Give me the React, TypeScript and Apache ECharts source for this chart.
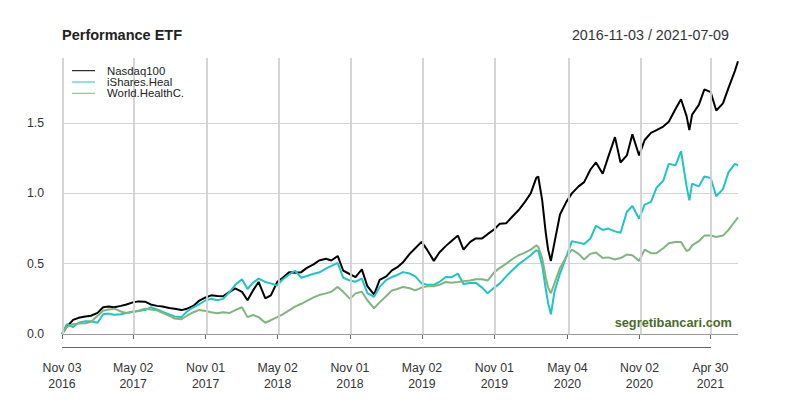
import React, { useEffect, useRef } from 'react';
import * as echarts from 'echarts';

const dates = [
  '2016-11-03', '2016-11-15', '2016-12-01', '2016-12-15',
  '2017-01-01', '2017-01-15', '2017-02-01', '2017-02-15', '2017-03-01', '2017-03-15', '2017-04-01', '2017-04-15',
  '2017-05-01', '2017-05-15', '2017-06-01', '2017-06-15', '2017-07-01', '2017-07-15', '2017-08-01', '2017-08-15',
  '2017-09-01', '2017-09-15', '2017-10-01', '2017-10-15', '2017-11-01', '2017-11-15', '2017-12-01', '2017-12-15',
  '2018-01-01', '2018-01-15', '2018-02-01', '2018-02-15', '2018-03-01', '2018-03-15', '2018-04-01', '2018-04-15',
  '2018-05-01', '2018-05-15', '2018-06-01', '2018-06-15', '2018-07-01', '2018-07-15', '2018-08-01', '2018-08-15',
  '2018-09-01', '2018-09-15', '2018-10-01', '2018-10-15', '2018-11-01', '2018-11-15', '2018-12-01', '2018-12-15',
  '2019-01-01', '2019-01-15', '2019-02-01', '2019-02-15', '2019-03-01', '2019-03-15', '2019-04-01', '2019-04-15',
  '2019-05-01', '2019-05-15', '2019-06-01', '2019-06-15', '2019-07-01', '2019-07-15', '2019-08-01', '2019-08-15',
  '2019-09-01', '2019-09-15', '2019-10-01', '2019-10-15', '2019-11-01', '2019-11-15', '2019-12-01', '2019-12-15',
  '2020-01-01', '2020-01-15', '2020-02-01', '2020-02-15', '2020-02-20', '2020-03-01', '2020-03-10', '2020-03-16',
  '2020-03-23', '2020-04-01', '2020-04-15', '2020-05-01', '2020-05-15', '2020-06-01', '2020-06-15', '2020-07-01',
  '2020-07-15', '2020-08-01', '2020-08-15', '2020-09-01', '2020-09-15', '2020-10-01', '2020-10-15', '2020-11-01',
  '2020-11-15', '2020-12-01', '2020-12-15',
  '2021-01-01', '2021-01-15', '2021-02-01', '2021-02-15', '2021-03-01', '2021-03-08', '2021-03-15', '2021-04-01',
  '2021-04-15', '2021-05-01', '2021-05-15', '2021-06-01', '2021-06-15', '2021-07-01', '2021-07-09',
];

const nasdaq100 = [
  0, 0.05, 0.1, 0.115,
  0.124, 0.13, 0.15, 0.19, 0.195, 0.19, 0.2, 0.21, 0.225, 0.232, 0.23, 0.21, 0.2, 0.195, 0.185, 0.18, 0.17, 0.18, 0.2, 0.235, 0.26, 0.275, 0.27, 0.268,
  0.3, 0.324, 0.3, 0.24, 0.31, 0.37, 0.254, 0.275, 0.37, 0.4, 0.44, 0.435, 0.44, 0.47, 0.495, 0.523, 0.535, 0.523, 0.555, 0.45, 0.425, 0.405, 0.46, 0.34,
  0.28, 0.385, 0.41, 0.453, 0.475, 0.51, 0.57, 0.61, 0.655, 0.6, 0.52, 0.58, 0.625, 0.66, 0.7, 0.6, 0.655, 0.68, 0.68, 0.71, 0.745, 0.785, 0.788, 0.83,
  0.88, 0.93, 1.0, 1.11, 1.12, 0.95, 0.72, 0.6, 0.52, 0.65, 0.85, 0.94, 1.0, 1.05, 1.08, 1.17, 1.22, 1.14, 1.26, 1.4, 1.22, 1.27, 1.42, 1.27, 1.38, 1.43, 1.45,
  1.475, 1.51, 1.6, 1.67, 1.55, 1.45, 1.56, 1.63, 1.74, 1.72, 1.59, 1.64, 1.75, 1.87, 1.94,
];

const isharesHeal = [
  0, 0.07, 0.05, 0.08,
  0.09, 0.09, 0.08, 0.14, 0.145, 0.137, 0.14, 0.15, 0.157, 0.163, 0.17, 0.19, 0.175, 0.158, 0.14, 0.125, 0.12, 0.16, 0.19, 0.21, 0.24, 0.25, 0.24, 0.25,
  0.3, 0.35, 0.39, 0.32, 0.365, 0.394, 0.37, 0.36, 0.345, 0.388, 0.425, 0.45, 0.4, 0.412, 0.428, 0.437, 0.465, 0.485, 0.505, 0.4, 0.38, 0.372, 0.394, 0.29,
  0.265, 0.335, 0.385, 0.405, 0.42, 0.44, 0.43, 0.41, 0.36, 0.35, 0.35, 0.37, 0.405, 0.403, 0.43, 0.355, 0.363, 0.365, 0.33, 0.29, 0.33, 0.36, 0.41, 0.45,
  0.495, 0.525, 0.56, 0.595, 0.59, 0.49, 0.32, 0.22, 0.14, 0.3, 0.43, 0.55, 0.66, 0.65, 0.64, 0.68, 0.77, 0.74, 0.75, 0.73, 0.72, 0.87, 0.91, 0.82, 0.92, 0.94, 1.04,
  1.09, 1.21, 1.2, 1.3, 1.05, 0.95, 1.07, 1.05, 1.12, 1.11, 0.98, 1.03, 1.15, 1.21, 1.2,
];

const worldHealth = [
  0, 0.05, 0.07, 0.075,
  0.077, 0.085, 0.13, 0.165, 0.175, 0.18, 0.16, 0.15, 0.16, 0.165, 0.18, 0.175, 0.168, 0.15, 0.13, 0.11, 0.105, 0.13, 0.155, 0.17, 0.163, 0.155, 0.148, 0.155,
  0.15, 0.17, 0.19, 0.12, 0.135, 0.12, 0.08, 0.098, 0.12, 0.14, 0.17, 0.195, 0.215, 0.235, 0.26, 0.277, 0.289, 0.3, 0.335, 0.3, 0.25, 0.289, 0.3, 0.24,
  0.183, 0.225, 0.27, 0.31, 0.32, 0.335, 0.325, 0.31, 0.33, 0.34, 0.34, 0.35, 0.37, 0.365, 0.37, 0.375, 0.38, 0.39, 0.39, 0.38, 0.44, 0.47, 0.5, 0.53,
  0.56, 0.575, 0.6, 0.63, 0.62, 0.54, 0.4, 0.33, 0.29, 0.36, 0.47, 0.55, 0.6, 0.57, 0.53, 0.57, 0.58, 0.54, 0.545, 0.53, 0.54, 0.565, 0.56, 0.52, 0.6, 0.575, 0.575,
  0.61, 0.645, 0.655, 0.655, 0.59, 0.6, 0.63, 0.66, 0.7, 0.7, 0.69, 0.7, 0.74, 0.8, 0.83,
];

const seriesNames = ['Nasdaq100', 'iShares.Heal', 'World.HealthC.'];
const seriesColors = ['#000000', '#1fc4c4', '#80b580'];
const tickDates = [
  '2016-11-03', '2017-05-02', '2017-11-01', '2018-05-02', '2018-11-01',
  '2019-05-02', '2019-11-01', '2020-05-04', '2020-11-02', '2021-04-30',
];
const yTicks = [0, 0.5, 1, 1.5];
const Y_MAX = 1.963;
const chartTitle = 'Performance ETF';
const rangeLabel = '2016-11-03 / 2021-07-09';
const watermark = 'segretibancari.com';

const MONTHS = ['Jan', 'Feb', 'Mar', 'Apr', 'May', 'Jun', 'Jul', 'Aug', 'Sep', 'Oct', 'Nov', 'Dec'];
const FONT = '"Liberation Sans", Arial, Helvetica, sans-serif';

const ts = (d: string) => {
  const [y, m, dd] = d.split('-').map(Number);
  return Date.UTC(y, m - 1, dd);
};

const fmtDate = (v: number) => {
  const d = new Date(v);
  return `${MONTHS[d.getUTCMonth()]} ${String(d.getUTCDate()).padStart(2, '0')}\n${d.getUTCFullYear()}`;
};

export default function App() {
  const ref = useRef<HTMLDivElement>(null);

  useEffect(() => {
    document.body.style.margin = '0';
    if (!ref.current) return;
    const chart = echarts.init(ref.current, undefined, { renderer: 'svg' });
    const tickTs = tickDates.map(ts);
    const values = [nasdaq100, isharesHeal, worldHealth];

    const overlay: any[] = [];
    seriesNames.forEach((name, i) => {
      const y = 70.7 + i * 11.3;
      overlay.push({
        type: 'line', id: 'lg-line-' + i, silent: true, z: 20,
        shape: { x1: 72, y1: y, x2: 95, y2: y },
        style: { stroke: seriesColors[i], lineWidth: 1 },
      });
      overlay.push({
        type: 'text', id: 'lg-text-' + i, silent: true, z: 20,
        x: 107, y,
        style: { text: name, fill: '#222', font: `11.4px ${FONT}`, verticalAlign: 'middle', align: 'left' },
      });
    });
    overlay.push({
      type: 'text', id: 'wm', silent: true, z: 20,
      x: 732, y: 322,
      style: { text: watermark, fill: '#4b6b2b', font: `bold 12.8px ${FONT}`, verticalAlign: 'middle', align: 'right' },
    });

    chart.setOption({
      animation: false,
      backgroundColor: '#ffffff',
      title: [
        {
          text: chartTitle, left: 62, top: 26, padding: 0,
          textStyle: { fontFamily: FONT, fontSize: 14.5, fontWeight: 'bold', color: '#222', lineHeight: 17 },
        },
        {
          text: rangeLabel, right: 71, top: 26, padding: 0,
          textStyle: { fontFamily: FONT, fontSize: 14.3, fontWeight: 'normal', color: '#333', lineHeight: 17 },
        },
      ],
      grid: { left: 62, right: 62, top: 58, bottom: 66, containLabel: false, outerBoundsMode: 'none' },
      xAxis: {
        type: 'value',
        min: ts(dates[0]),
        max: ts(dates[dates.length - 1]),
        offset: 13,
        axisLine: { show: false },
        axisTick: { show: true, customValues: tickTs, length: 5, lineStyle: { color: '#666', width: 1 } },
        axisLabel: {
          customValues: tickTs,
          formatter: (v: number) => fmtDate(v),
          fontFamily: FONT, fontSize: 12.3, lineHeight: 16, color: '#333', margin: 13,
          hideOverlap: false, showMinLabel: true, showMaxLabel: true,
        },
        splitLine: { show: false },
      },
      yAxis: {
        type: 'value',
        min: 0,
        max: Y_MAX,
        interval: 0.5,
        axisLine: { show: false },
        axisTick: { show: false },
        axisLabel: {
          customValues: yTicks,
          formatter: (v: number) => v.toFixed(1),
          fontFamily: FONT, fontSize: 12.3, color: '#333', margin: 18,
        },
        splitLine: { show: false },
      },
      series: [
        {
          type: 'line', name: '__grid', data: [], silent: true,
          markLine: {
            silent: true, z: 1, animation: false,
            symbol: ['none', 'none'],
            label: { show: false },
            emphasis: { disabled: true },
            lineStyle: { color: '#d4d4d4', width: 1, type: 'solid' },
            data: [
              ...yTicks.filter((v) => v > 0).map((v) => ({ yAxis: v })),
              { yAxis: 0, lineStyle: { color: '#9a9a9a', width: 1, type: 'solid' } },
            ],
          },
        },
        ...seriesNames.map((name, i) => ({
          type: 'line',
          name,
          z: 3 + i,
          showSymbol: false,
          symbol: 'none',
          silent: true,
          emphasis: { disabled: true },
          lineStyle: { color: seriesColors[i], width: 2 },
          itemStyle: { color: seriesColors[i] },
          data: dates.map((d, k) => [ts(d), values[i][k]]),
        })),
      ],
      graphic: overlay,
    });

    const px = (t: number) => Number(chart.convertToPixel({ xAxisIndex: 0 }, t));
    const yBottom = Number(chart.convertToPixel({ yAxisIndex: 0 }, 0));
    const yTopPx = Number(chart.convertToPixel({ yAxisIndex: 0 }, Y_MAX));
    const top = Math.round(Math.min(yTopPx, yBottom));
    const bottom = Math.round(Math.max(yTopPx, yBottom));
    const vLines = tickTs.map((t, i) => ({
      type: 'polyline', id: 'vgrid-' + i, silent: true, z: 10,
      shape: { points: [[Math.round(px(t)) + 0.5, top], [Math.round(px(t)) + 0.5, bottom], [Math.round(px(t)) + 1.5, bottom], [Math.round(px(t)) + 1.5, top]] },
      style: { stroke: '#d0d0d0', lineWidth: 1, fill: 'none', opacity: 0.9 },
    }));
    const yb = Math.round(yBottom + 13);
    chart.setOption({
      graphic: [
        ...overlay,
        ...vLines,
        {
          type: 'rect', id: 'x-axis-line', silent: true, z: 20,
          shape: { x: Math.round(px(tickTs[0])), y: yb, width: Math.round(px(tickTs[tickTs.length - 1]) - px(tickTs[0])) + 1, height: 1 },
          style: { fill: '#666' },
        },
      ],
    });

    return () => chart.dispose();
  }, []);

  return <div ref={ref} style={{ width: 800, height: 400 }} />;
}
